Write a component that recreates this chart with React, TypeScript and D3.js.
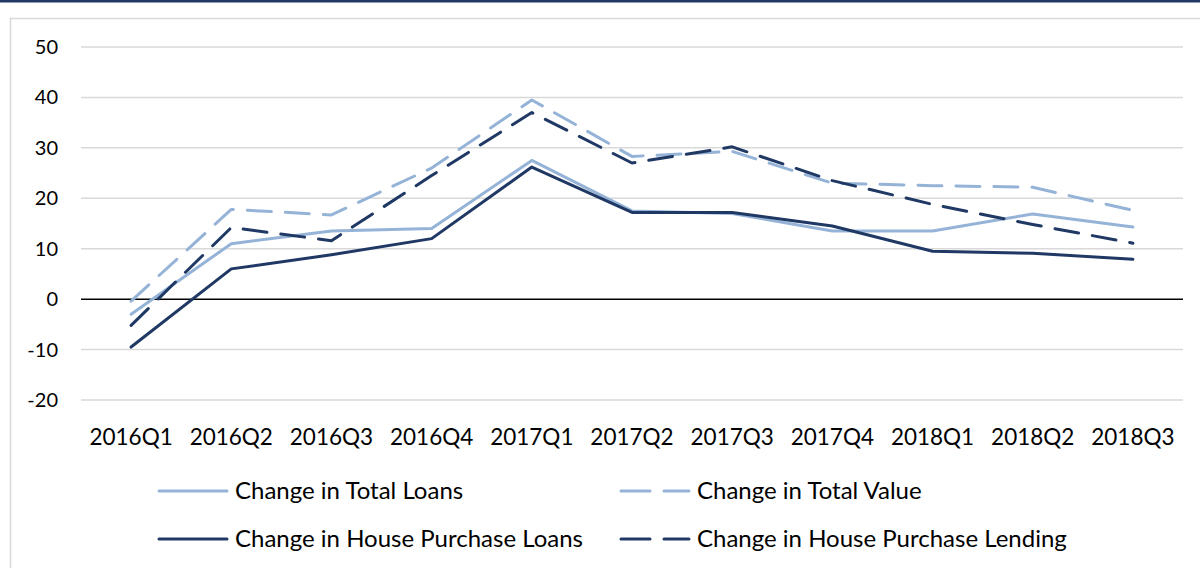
import * as d3 from "d3";
import { useEffect, useRef } from "react";

const quarters = [
  "2016Q1", "2016Q2", "2016Q3", "2016Q4",
  "2017Q1", "2017Q2", "2017Q3", "2017Q4",
  "2018Q1", "2018Q2", "2018Q3",
];

const totalLoans = [-3, 11, 13.5, 14, 27.5, 17.5, 17, 13.5, 13.5, 16.9, 14.3];
const totalValue = [-0.4, 17.8, 16.7, 26, 39.5, 28.3, 29.3, 23, 22.5, 22.2, 17.6];
const housePurchaseLoans = [-9.5, 6, 8.8, 12, 26.2, 17.2, 17.2, 14.5, 9.5, 9.1, 7.9];
const housePurchaseLending = [-5.2, 14.2, 11.6, 24.5, 37, 27, 30.2, 23.5, 18.8, 14.8, 11.1];

const yTicks = [-20, -10, 0, 10, 20, 30, 40, 50];

const series = [
  { name: "Change in Total Loans", values: totalLoans, color: "#95B3D7", dash: null },
  { name: "Change in Total Value", values: totalValue, color: "#95B3D7", dash: "24 14" },
  { name: "Change in House Purchase Loans", values: housePurchaseLoans, color: "#1F3864", dash: null },
  { name: "Change in House Purchase Lending", values: housePurchaseLending, color: "#1F3864", dash: "24 14" },
];

const width = 1200;
const height = 568;
const font = "Lato, sans-serif";

export default function App() {
  const svgRef = useRef<SVGSVGElement>(null);

  useEffect(() => {
    const svg = d3.select(svgRef.current);
    svg.selectAll("*").remove();

    const margin = { left: 81, right: 17, top: 47, bottom: 168 };

    const x = d3
      .scaleBand()
      .domain(quarters)
      .range([margin.left, width - margin.right]);

    const y = d3
      .scaleLinear()
      .domain([-20, 50])
      .range([height - margin.bottom, margin.top]);

    // frame
    svg.append("rect").attr("x", 0).attr("y", 0).attr("width", width).attr("height", 2.5).attr("fill", "#1F3864");
    svg
      .append("rect")
      .attr("x", 10.5)
      .attr("y", 18.5)
      .attr("width", width)
      .attr("height", height)
      .attr("fill", "none")
      .attr("stroke", "#D9D9D9")
      .attr("stroke-width", 1.5);

    // grid
    svg
      .selectAll(".grid")
      .data(yTicks.filter((d) => d !== 0))
      .enter()
      .append("line")
      .attr("x1", margin.left)
      .attr("x2", width - margin.right)
      .attr("y1", (d) => y(d))
      .attr("y2", (d) => y(d))
      .attr("stroke", "#D9D9D9")
      .attr("stroke-width", 1.5);

    svg
      .append("line")
      .attr("x1", margin.left)
      .attr("x2", width - margin.right)
      .attr("y1", y(0))
      .attr("y2", y(0))
      .attr("stroke", "#000")
      .attr("stroke-width", 1.5);

    // y labels
    svg
      .selectAll(".ylab")
      .data(yTicks)
      .enter()
      .append("text")
      .attr("x", 58)
      .attr("y", (d) => y(d))
      .attr("dy", "0.35em")
      .attr("text-anchor", "end")
      .attr("font-family", font)
      .attr("font-size", 20)
      .attr("fill", "#000")
      .text((d) => d);

    // x labels
    svg
      .selectAll(".xlab")
      .data(quarters)
      .enter()
      .append("text")
      .attr("x", (d) => x(d)! + x.bandwidth() / 2)
      .attr("y", 437)
      .attr("dy", "0.35em")
      .attr("text-anchor", "middle")
      .attr("font-family", font)
      .attr("font-size", 22.5)
      .attr("fill", "#000")
      .text((d) => d);

    const line = d3
      .line<number>()
      .x((_, i) => x(quarters[i])! + x.bandwidth() / 2)
      .y((d) => y(d));

    series.forEach((s) => {
      svg
        .append("path")
        .attr("d", line(s.values))
        .attr("fill", "none")
        .attr("stroke", s.color)
        .attr("stroke-width", 3)
        .attr("stroke-linecap", "round")
        .attr("stroke-linejoin", "round")
        .attr("stroke-dasharray", s.dash);
    });

    // legend
    const legendPos = [
      { lx: 159, ty: 491 },
      { lx: 621, ty: 491 },
      { lx: 159, ty: 539 },
      { lx: 621, ty: 539 },
    ];
    series.forEach((s, i) => {
      const p = legendPos[i];
      svg
        .append("line")
        .attr("x1", p.lx)
        .attr("x2", p.lx + 68)
        .attr("y1", p.ty)
        .attr("y2", p.ty)
        .attr("stroke", s.color)
        .attr("stroke-width", 3)
        .attr("stroke-linecap", "round")
        .attr("stroke-dasharray", s.dash ? "29 14" : null);
      svg
        .append("text")
        .attr("x", p.lx + 76)
        .attr("y", p.ty)
        .attr("dy", "0.35em")
        .attr("font-family", font)
        .attr("font-size", 24)
        .attr("fill", "#000")
        .text(s.name);
    });
  }, []);

  return (
    <svg
      ref={svgRef}
      width={width}
      height={height}
      style={{ position: "absolute", left: 0, top: 0, background: "#fff" }}
    />
  );
}
